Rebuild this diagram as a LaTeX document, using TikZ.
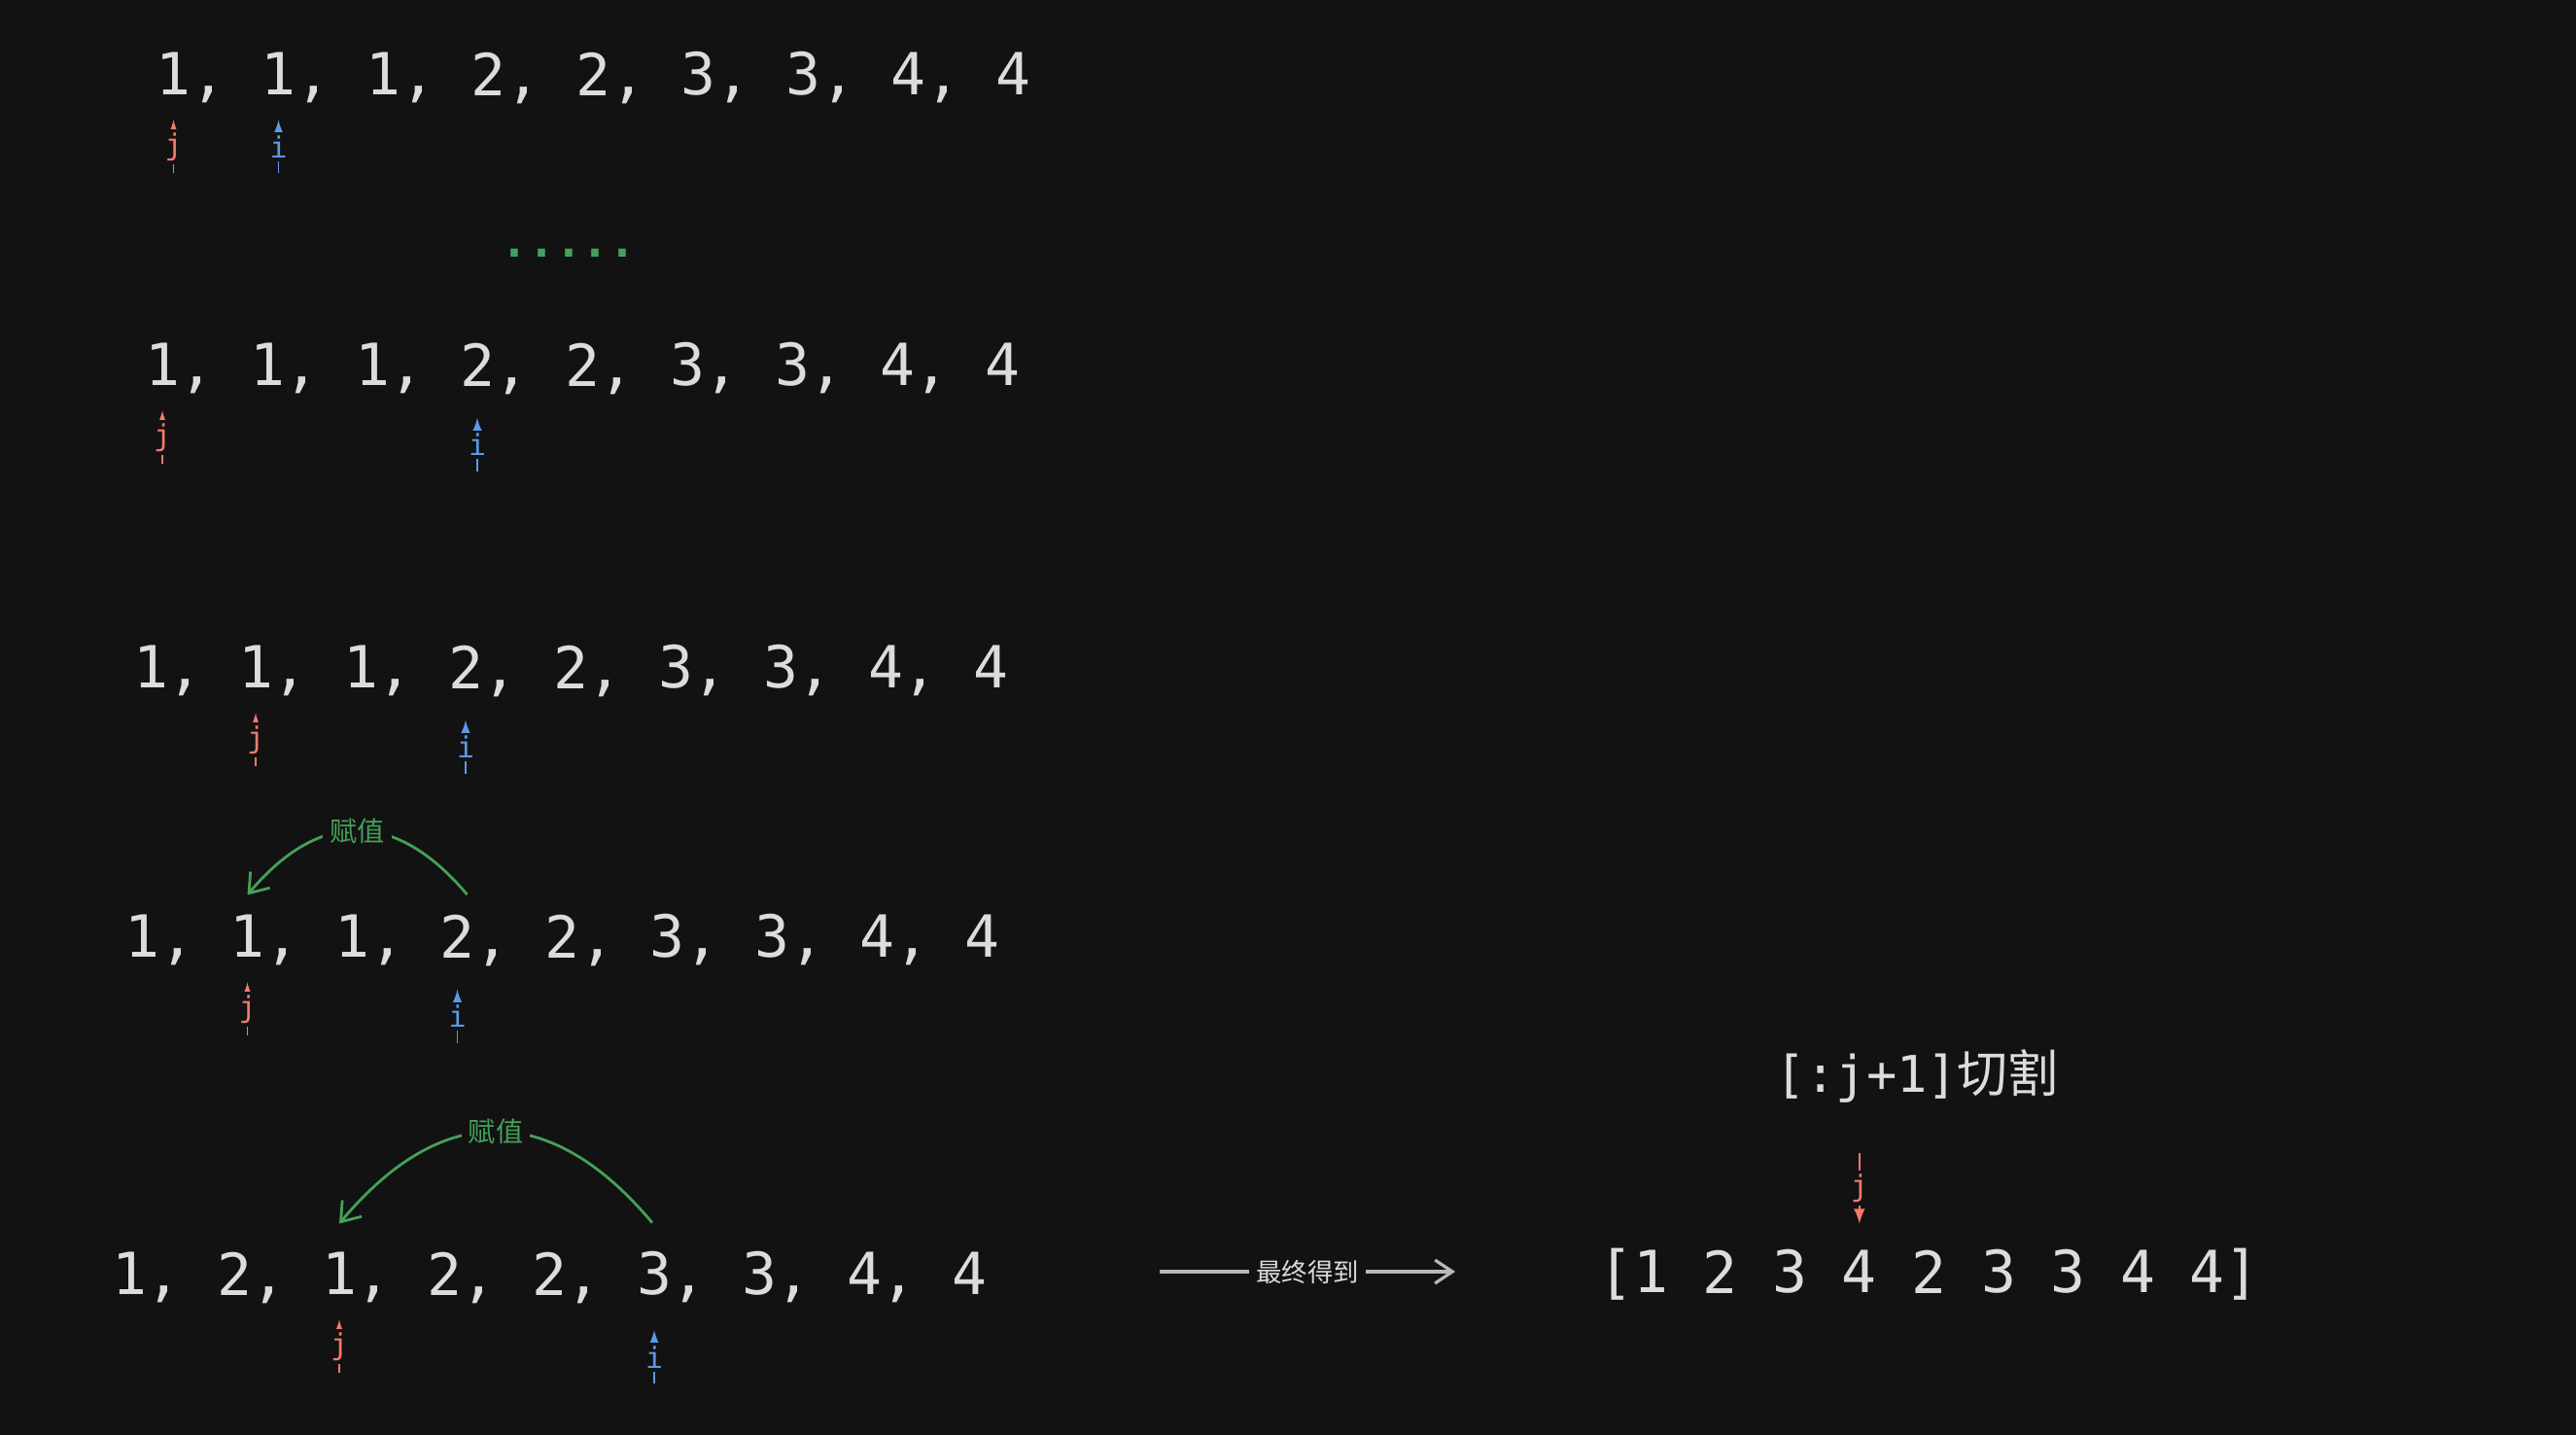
\documentclass[tikz,border=0pt]{standalone}
\usepackage{fontspec}
\setmonofont{DejaVu Sans Mono}
\newfontfamily\cjk{Noto Sans CJK SC}
\usetikzlibrary{calc,arrows.meta}

\definecolor{bg}{HTML}{121212}
\definecolor{numgray}{HTML}{DCDCDC}
\definecolor{jred}{HTML}{F87A6D}
\definecolor{iblue}{HTML}{5A9AE8}
\definecolor{agreen}{HTML}{45A05A}
\definecolor{agray}{HTML}{B8B8B8}

\begin{document}
\begin{tikzpicture}[>=latex,
    num/.style={text=numgray, inner sep=0pt, font=\ttfamily\fontsize{17}{17}\selectfont},
    jlab/.style={text=jred, fill=bg, inner sep=1pt, font=\ttfamily\fontsize{8.5}{8.5}\selectfont},
    ilab/.style={jlab, text=iblue},
    jptr/.style={draw=jred, line width=0.5pt, ->},
    iptr/.style={draw=iblue, line width=0.5pt, ->},
    assign/.style={draw=agreen, line width=0.8pt, -{Straight Barb[length=1.8mm,width=2.6mm]}},
    asslab/.style={text=agreen, fill=bg, inner sep=2pt, font=\cjk\fontsize{8}{8}\selectfont},
    result/.style={draw=agray, line width=0.9pt, -{Straight Barb[length=1.8mm,width=2.4mm]}},
    reslab/.style={text=numgray, fill=bg, inner sep=2pt, font=\cjk\fontsize{7.5}{7.5}\selectfont}]

    % Background
    \fill[bg] (0,0) rectangle (26.5,-14.76);

    % Define the rows of numbers (left side)
    \foreach \v [count=\k] in {1,1,1,2,2,3,3,4,4}
        \node[num] (r1n\k) at ({1.785+(\k-1)*1.08},-0.76) {\v\ifnum\k<9\rlap{\smash{,}}\fi};
    \foreach \v [count=\k] in {1,1,1,2,2,3,3,4,4}
        \node[num] (r2n\k) at ({1.67+(\k-1)*1.08},-3.75) {\v\ifnum\k<9\rlap{\smash{,}}\fi};
    \foreach \v [count=\k] in {1,1,1,2,2,3,3,4,4}
        \node[num] (r3n\k) at ({1.55+(\k-1)*1.08},-6.86) {\v\ifnum\k<9\rlap{\smash{,}}\fi};
    \foreach \v [count=\k] in {1,1,1,2,2,3,3,4,4}
        \node[num] (r4n\k) at ({1.465+(\k-1)*1.08},-9.63) {\v\ifnum\k<9\rlap{\smash{,}}\fi};
    \foreach \v [count=\k] in {1,2,1,2,2,3,3,4,4}
        \node[num] (r5n\k) at ({1.33+(\k-1)*1.08},-13.10) {\v\ifnum\k<9\rlap{\smash{,}}\fi};

    % Skipped steps
    \node[text=agreen, inner sep=0pt, font=\ttfamily\bfseries\fontsize{13.2}{13.2}\selectfont] (gap) at (5.85,-2.60) {.....};

    % Draw the pointers j and i
    \draw[jptr] ($(r1n1.south)+(0,-0.8)$) -- node[jlab] (j1) {j} ($(r1n1.south)+(0,-0.25)$);
    \draw[iptr] ($(r1n2.south)+(0,-0.8)$) -- node[ilab] (i1) {i} ($(r1n2.south)+(0,-0.25)$);

    \draw[jptr] ($(r2n1.south)+(0,-0.8)$) -- node[jlab] (j2) {j} ($(r2n1.south)+(0,-0.25)$);
    \draw[iptr] ($(r2n4.south)+(0,-0.87)$) -- node[ilab] (i2) {i} ($(r2n4.south)+(0,-0.32)$);

    \draw[jptr] ($(r3n2.south)+(0,-0.8)$) -- node[jlab] (j3) {j} ($(r3n2.south)+(0,-0.25)$);
    \draw[iptr] ($(r3n4.south)+(0,-0.87)$) -- node[ilab] (i3) {i} ($(r3n4.south)+(0,-0.32)$);

    \draw[jptr] ($(r4n2.south)+(0,-0.8)$) -- node[jlab] (j4) {j} ($(r4n2.south)+(0,-0.25)$);
    \draw[iptr] ($(r4n4.south)+(0,-0.87)$) -- node[ilab] (i4) {i} ($(r4n4.south)+(0,-0.32)$);

    \draw[jptr] ($(r5n3.south)+(0,-0.8)$) -- node[jlab] (j5) {j} ($(r5n3.south)+(0,-0.25)$);
    \draw[iptr] ($(r5n6.south)+(0,-0.9)$) -- node[ilab] (i5) {i} ($(r5n6.south)+(0,-0.35)$);

    % Draw the assignments
    \draw[assign] ($(r4n4.north)+(0.1,0.2)$) to[out=130,in=50,looseness=1.3] node[asslab] (a4) {赋值} ($(r4n2.north)+(0,0.2)$);
    \draw[assign] ($(r5n6.north)+(-0.02,0.29)$) to[out=130,in=50,looseness=1.3] node[asslab] (a5) {赋值} ($(r5n3.north)+(0,0.29)$);

    % Final result (right side)
    \coordinate (fs) at (11.93,-13.08);
    \coordinate (fe) at (14.97,-13.08);
    \draw[result] (fs) -- node[reslab] (fl) {最终得到} (fe);

    \foreach \v [count=\k] in {1,2,3,4,2,3,3,4,4}
        \node[num] (f\k) at ({16.98+(\k-1)*0.716},-13.08) {\ifnum\k=1\llap{\smash{[}}\fi\v\ifnum\k=9\rlap{\smash{]}}\fi};

    \node[num, font=\ttfamily\fontsize{14.8}{14.8}\selectfont] (cut) at (19.72,-11.07) {[:j+1]{\cjk 切割}};

    \draw[jptr] ($(f4.north)+(0,1.0)$) -- node[jlab] (jf) {j} ($(f4.north)+(0,0.27)$);

\end{tikzpicture}
\end{document}
